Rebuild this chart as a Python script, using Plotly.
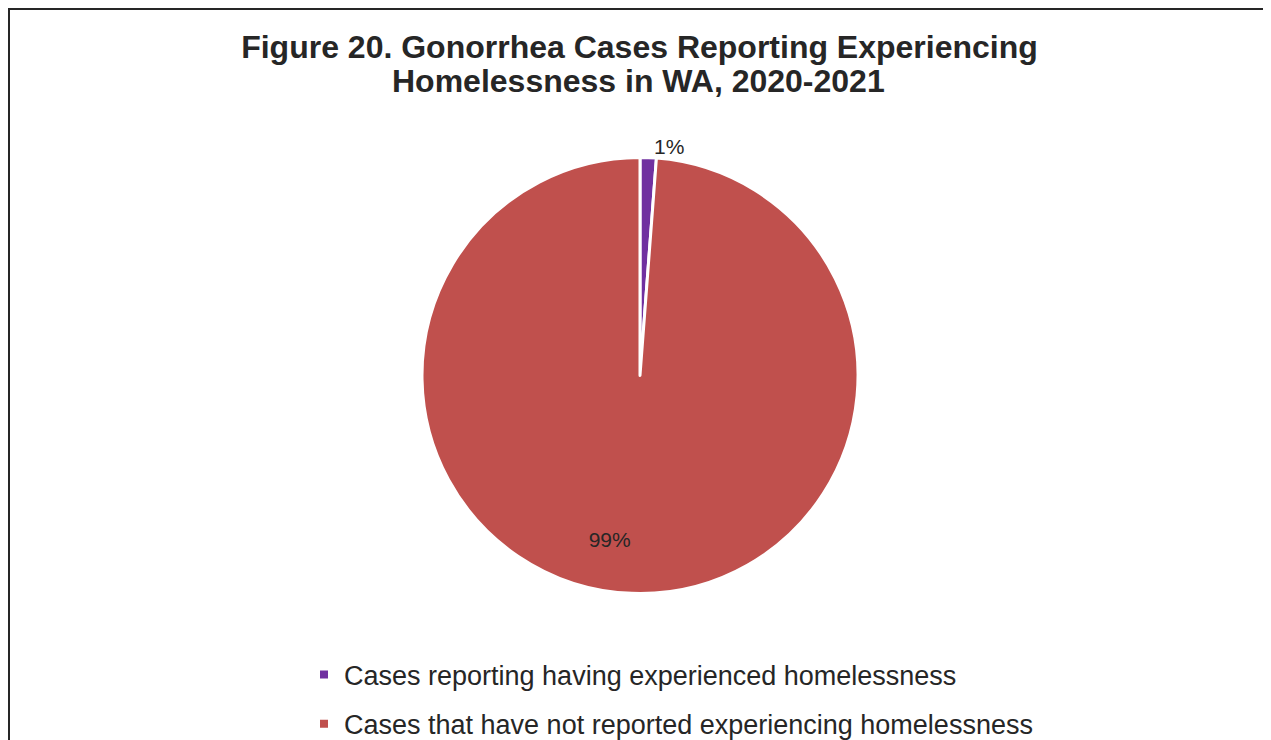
import plotly.graph_objects as go

labels = ["Cases reporting having experienced homelessness",
          "Cases that have not reported experiencing homelessness"]
values = [1.2, 98.8]
colors = ["#7030A0", "#C0504D"]
title_lines = ["Figure 20. Gonorrhea Cases Reporting Experiencing",
               "Homelessness in WA, 2020-2021"]

W, H = 1263, 760          # the html body adds an 8px offset
CX, CY, R = 632, 367.5, 218
PAD = 24

label_templates = [
    "%{percent:.0%}",
    "&nbsp;<br>&nbsp;<br>&nbsp;<br>&nbsp;<br>%{percent:.0%}" + "&nbsp;" * 9,
]

fig = go.Figure()
fig.add_trace(go.Pie(
    labels=labels,
    values=values,
    marker=dict(colors=colors, line=dict(color="white", width=3)),
    sort=False,
    direction="clockwise",
    rotation=0,
    texttemplate=label_templates,
    textposition=["outside", "inside"],
    textfont=dict(family="Liberation Sans, Arial", size=21, color="#262626"),
    insidetextorientation="horizontal",
    domain=dict(x=[(CX - R) / W, (CX + R) / W],
                y=[1 - (CY + R + PAD) / H, 1 - (CY - R - PAD) / H]),
    showlegend=False,
    hoverinfo="label+percent",
))

# legend entries (one per slice), drawn from the same labels/colors
for lab, col in zip(labels, colors):
    fig.add_trace(go.Scatter(
        x=[None], y=[None], mode="markers", name=lab, legendgroup=lab,
        marker=dict(symbol="square", size=8, color=col),
        hoverinfo="skip",
    ))

FONT = "Liberation Sans, Arial"
fig.update_layout(
    width=W, height=H,
    margin=dict(l=0, r=0, t=0, b=0, autoexpand=False),
    paper_bgcolor="white",
    plot_bgcolor="white",
    xaxis=dict(visible=False),
    yaxis=dict(visible=False),
    title=dict(
        text="<b>" + title_lines[0] + "</b>",
        x=631.5 / W, xanchor="center",
        y=1 - 38.5 / H, yanchor="middle",
        font=dict(family=FONT, size=32, color="#262626"),
    ),
    annotations=[dict(
        text="<b>" + title_lines[1] + "</b>",
        xref="paper", yref="paper",
        x=630.5 / W, xanchor="center",
        y=1 - 73 / H, yanchor="middle",
        showarrow=False,
        font=dict(family=FONT, size=32, color="#262626"),
    )],
    legend=dict(
        orientation="v",
        x=296 / W, xanchor="left",
        y=1 - 642.5 / H, yanchor="top",
        font=dict(family=FONT, size=27, color="#262626"),
        traceorder="grouped",
        tracegroupgap=11,
        itemsizing="trace",
        bgcolor="rgba(0,0,0,0)",
    ),
    shapes=[dict(type="rect", xref="paper", yref="paper",
                 x0=1 / W, x1=1262 / W, y0=-0.1, y1=1 - 1 / H,
                 line=dict(color="#262626", width=2), fillcolor="rgba(0,0,0,0)")],
)

fig.write_html("out.html")
